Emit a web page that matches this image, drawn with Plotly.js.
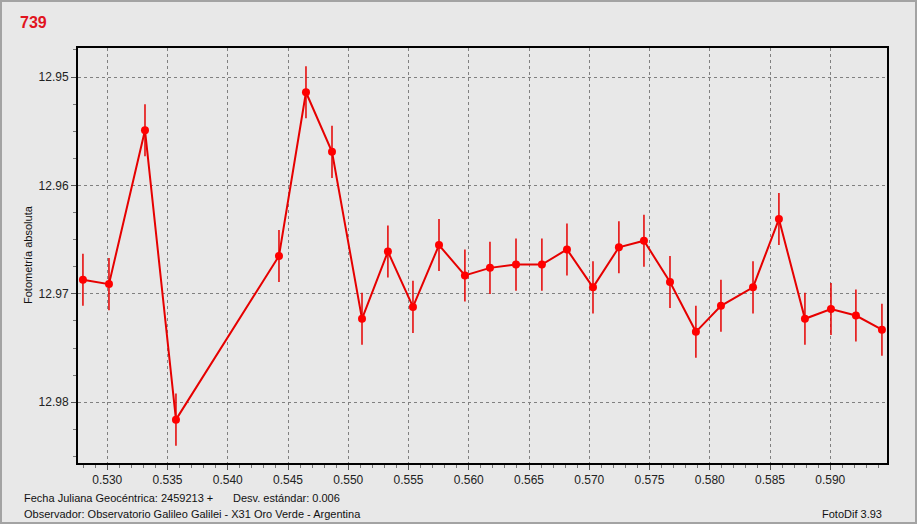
<!DOCTYPE html>
<html>
<head>
<meta charset="utf-8">
<script src="https://cdn.plot.ly/plotly-3.0.1.min.js"></script>
<style>
  html, body { margin: 0; padding: 0; background: #ffffff; }
  #frame { position: absolute; left: 0; top: 0; width: 917px; height: 524px; box-sizing: border-box;
           border: 2px solid #a3a3a3; background: #e8e8e8; }
  #plot { width: 913px; height: 520px; }
</style>
</head>
<body>
<div id="frame"><div id="plot"></div></div>
<script>
// Fecha Juliana Geocéntrica (fraction, + 2459213)
const jd = [0.52798, 0.53014, 0.53313, 0.53570, 0.54425, 0.54649, 0.54865, 0.55114,
            0.55329, 0.55537, 0.55753, 0.55968, 0.56176, 0.56392, 0.56607, 0.56815,
            0.57031, 0.57246, 0.57454, 0.57670, 0.57885, 0.58093, 0.58359, 0.58574,
            0.58790, 0.59006, 0.59213, 0.59429];
// Fotometría absoluta (magnitudes)
const mag = [12.9687, 12.9691, 12.9549, 12.9816, 12.9665, 12.9514, 12.9569, 12.9723,
             12.9661, 12.9712, 12.9655, 12.9683, 12.9676, 12.9673, 12.9673, 12.9659,
             12.9694, 12.9657, 12.9651, 12.9689, 12.9735, 12.9711, 12.9694, 12.9631,
             12.9723, 12.9714, 12.9720, 12.9733];
// Error (half-length of error bar)
const err = [0.0024, 0.0024, 0.0024, 0.0024, 0.0024, 0.0024, 0.0024, 0.0024,
             0.0024, 0.0024, 0.0024, 0.0024, 0.0024, 0.0024, 0.0024, 0.0024,
             0.0024, 0.0024, 0.0024, 0.0024, 0.0024, 0.0024, 0.0024, 0.0024,
             0.0024, 0.0024, 0.0024, 0.0024];
const xTicks = [0.530, 0.535, 0.540, 0.545, 0.550, 0.555, 0.560, 0.565, 0.570, 0.575, 0.580, 0.585, 0.590];
const yTicks = [12.95, 12.96, 12.97, 12.98];

const red = 'rgb(230,0,0)';
const font = 'Liberation Sans, Arial, sans-serif';

const trace = {
  x: jd, y: mag, type: 'scatter', mode: 'lines+markers',
  line: { color: red, width: 2 },
  marker: { color: 'rgb(255,0,0)', size: 8, symbol: 'circle' },
  error_y: { type: 'data', array: err, visible: true, color: red, thickness: 1.5, width: 0 },
  hoverinfo: 'x+y'
};

// plot area in page pixels: x 78..887, y 48..463
const px = v => (v - 78) / 809;
const py = v => (463 - v) / 415;

const layout = {
  width: 913, height: 520,
  margin: { l: 76, r: 28, t: 46, b: 59 },
  paper_bgcolor: '#e8e8e8', plot_bgcolor: '#e8e8e8',
  showlegend: false,
  font: { family: font, size: 11, color: '#222' },
  xaxis: {
    range: [0.52757, 0.59471], tickmode: 'array', tickvals: xTicks,
    ticktext: xTicks.map(v => v.toFixed(3)),
    showgrid: true, gridcolor: '#808080', griddash: '3px,3px', gridwidth: 1,
    zeroline: false, showline: true, linecolor: '#000', linewidth: 2, mirror: true,
    ticks: 'outside', ticklen: 5, tickcolor: '#555', tickwidth: 1,
    minor: { dtick: 0.001, tick0: 0.530, ticks: 'outside', ticklen: 3, tickcolor: '#777', showgrid: false },
    tickfont: { family: font, size: 12, color: '#222' }
  },
  yaxis: {
    range: [12.9856, 12.94732], tickmode: 'array', tickvals: yTicks,
    ticktext: yTicks.map(v => v.toFixed(2)),
    showgrid: true, gridcolor: '#808080', griddash: '3px,3px', gridwidth: 1,
    zeroline: false, showline: true, linecolor: '#000', linewidth: 2, mirror: true,
    ticks: 'outside', ticklen: 5, tickcolor: '#555', tickwidth: 1,
    minor: { dtick: 0.0025, tick0: 12.95, ticks: 'outside', ticklen: 3, tickcolor: '#777', showgrid: false },
    tickfont: { family: font, size: 12, color: '#222' }
  },
  annotations: [
    { text: '<b>739</b>', xref: 'paper', yref: 'paper', x: px(18), y: py(23), xanchor: 'left', yanchor: 'middle',
      showarrow: false, font: { family: font, size: 16, color: 'rgb(225,20,30)' } },
    { text: 'Fotometría absoluta', xref: 'paper', yref: 'paper', x: px(28), y: py(255), textangle: -90,
      xanchor: 'center', yanchor: 'middle', showarrow: false, font: { family: font, size: 11, color: '#111' } },
    { text: 'Fecha Juliana Geocéntrica: 2459213 +', xref: 'paper', yref: 'paper', x: px(22), y: py(498),
      xanchor: 'left', yanchor: 'middle', showarrow: false, font: { family: font, size: 11, color: '#111' } },
    { text: 'Desv. estándar: 0.006', xref: 'paper', yref: 'paper', x: px(231), y: py(498),
      xanchor: 'left', yanchor: 'middle', showarrow: false, font: { family: font, size: 11, color: '#111' } },
    { text: 'Observador: Observatorio Galileo Galilei - X31 Oro Verde - Argentina', xref: 'paper', yref: 'paper',
      x: px(22), y: py(514), xanchor: 'left', yanchor: 'middle', showarrow: false,
      font: { family: font, size: 11, color: '#111' } },
    { text: 'FotoDif 3.93', xref: 'paper', yref: 'paper', x: px(884), y: py(514),
      xanchor: 'right', yanchor: 'middle', showarrow: false, font: { family: font, size: 11, color: '#111' } }
  ]
};

Plotly.newPlot('plot', [trace], layout, { displayModeBar: false, staticPlot: true });
</script>
</body>
</html>
